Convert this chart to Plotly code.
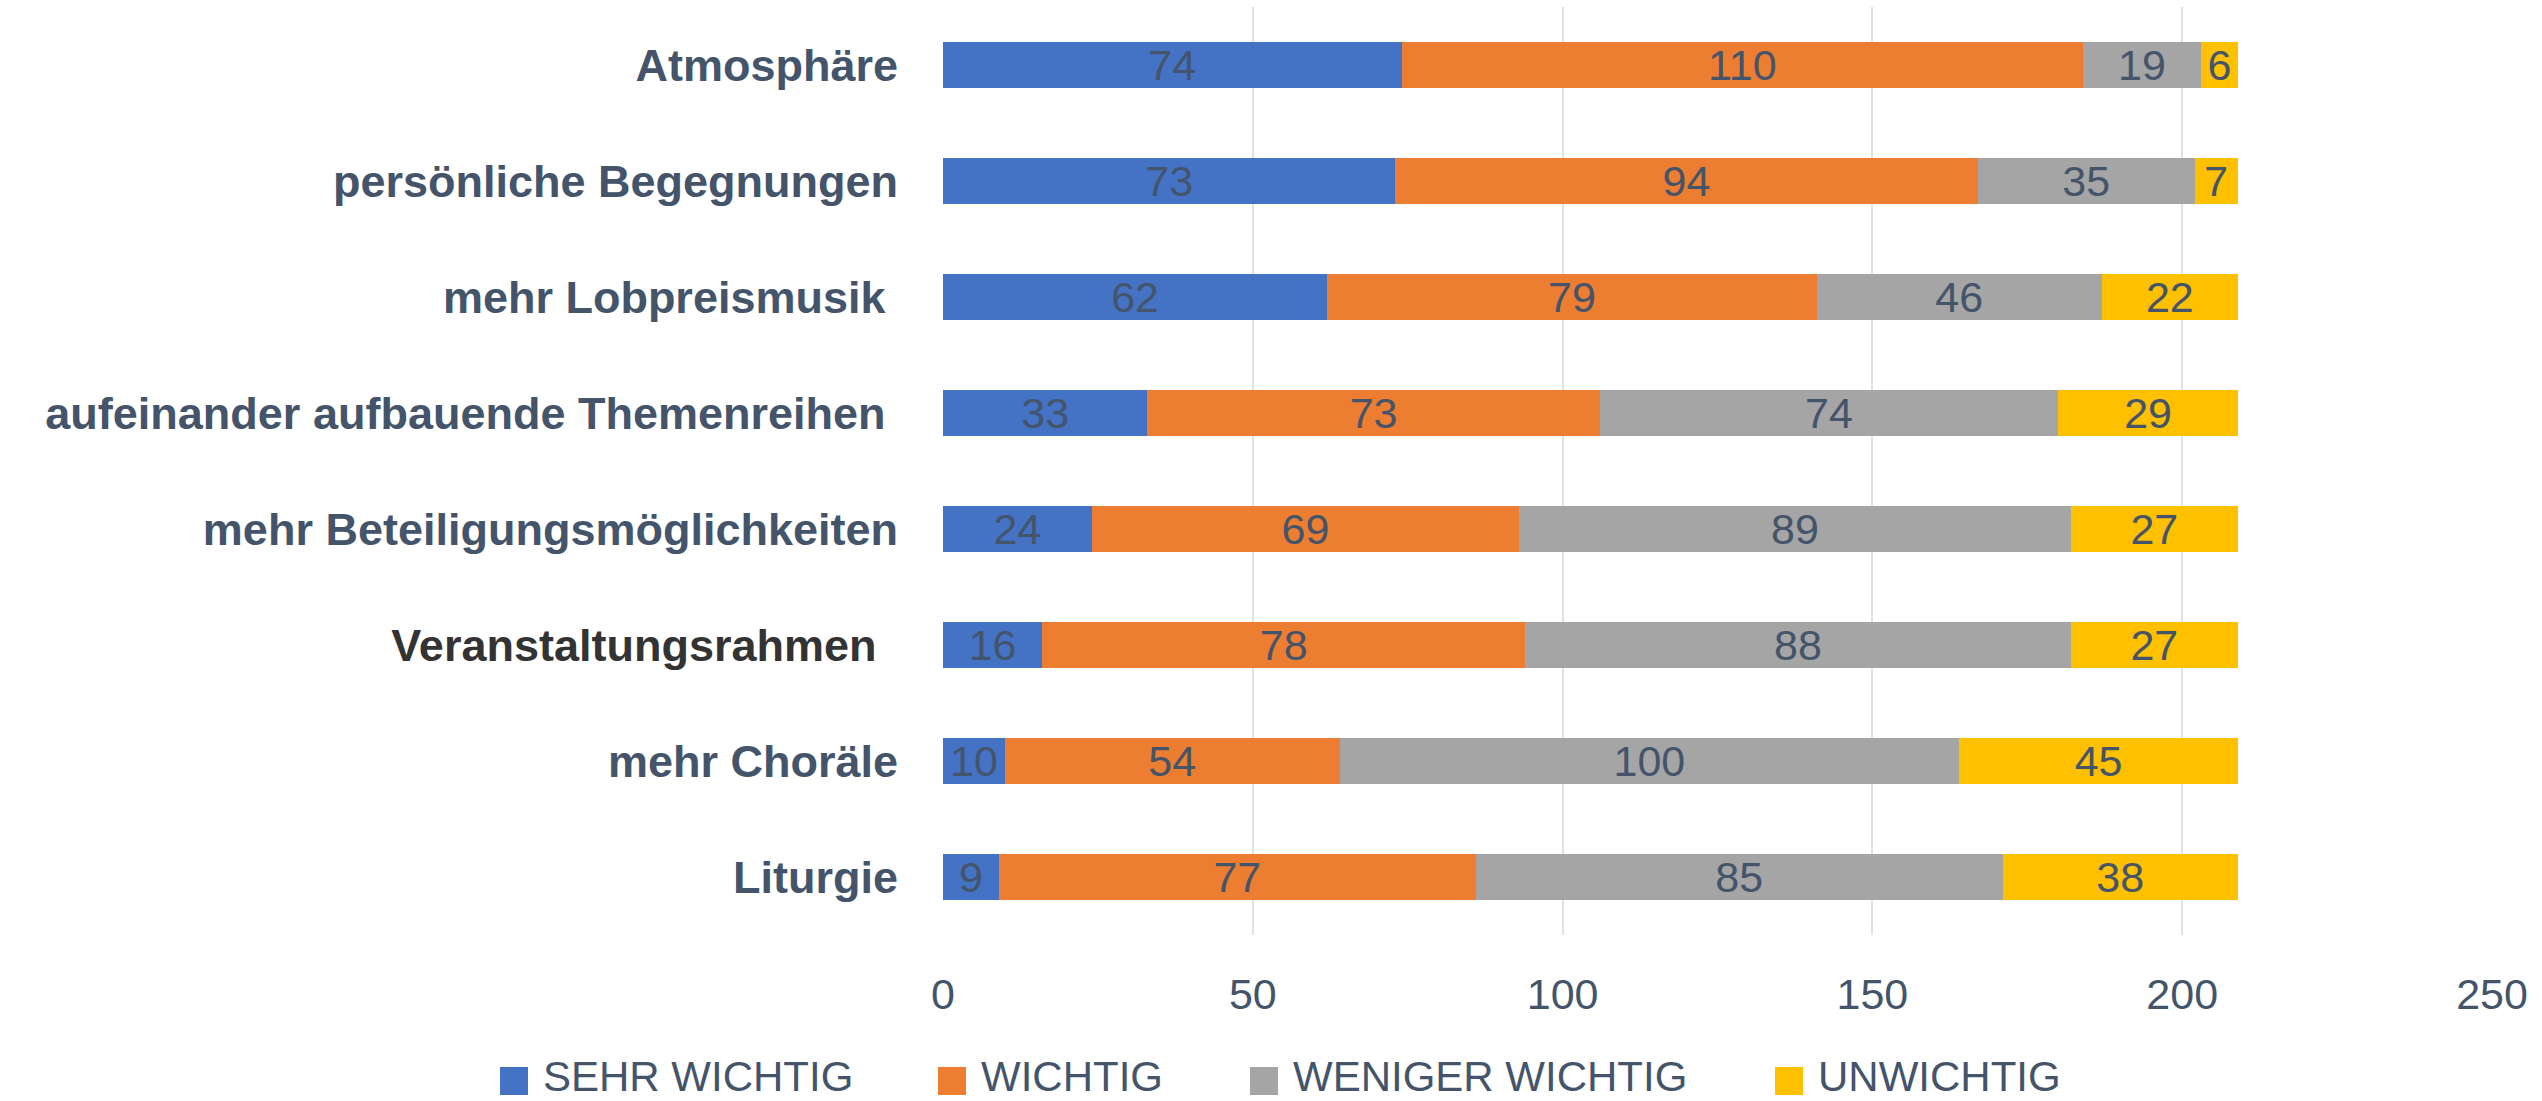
import plotly.graph_objects as go

# Kategorien von oben nach unten
categories = [
    "Atmosphäre",
    "persönliche Begegnungen",
    "mehr Lobpreismusik",
    "aufeinander aufbauende Themenreihen",
    "mehr Beteiligungsmöglichkeiten",
    "Veranstaltungsrahmen",
    "mehr Choräle",
    "Liturgie",
]
# Achsenbeschriftungen (mit den Leerzeichen am Ende wie im Original)
tick_labels = [
    "Atmosphäre",
    "persönliche Begegnungen",
    "mehr Lobpreismusik\u00a0",
    "aufeinander aufbauende Themenreihen\u00a0",
    "mehr Beteiligungsmöglichkeiten",
    "<span style='color:#333333'>Veranstaltungsrahmen\u00a0\u2009</span>",
    "mehr Choräle",
    "Liturgie",
]

series_names = ["SEHR WICHTIG", "WICHTIG", "WENIGER WICHTIG", "UNWICHTIG"]
sehr_wichtig = [74, 73, 62, 33, 24, 16, 10, 9]
wichtig = [110, 94, 79, 73, 69, 78, 54, 77]
weniger_wichtig = [19, 35, 46, 74, 89, 88, 100, 85]
unwichtig = [6, 7, 22, 29, 27, 27, 45, 38]

x_ticks = [0, 50, 100, 150, 200, 250]

colors = ["#4472c4", "#ed7d31", "#a5a5a5", "#ffc000"]
TXT = "#44546a"
FONT = "Liberation Sans, Arial, sans-serif"

W, H = 2542, 1101
L, R, T, B = 943, 50, 7, 166

fig = go.Figure()
for name, vals, col in zip(series_names,
                           [sehr_wichtig, wichtig, weniger_wichtig, unwichtig],
                           colors):
    fig.add_trace(go.Bar(
        y=categories, x=vals, name=name, orientation="h",
        marker=dict(color=col, line=dict(width=0)),
        text=[str(v) for v in vals], textposition="inside",
        insidetextanchor="middle", textangle=0, constraintext="none",
        textfont=dict(family=FONT, size=43, color=TXT),
        showlegend=False,
    ))

fig.update_layout(
    barmode="stack", bargap=0.6,
    width=W, height=H,
    margin=dict(l=L, r=R, t=T, b=B),
    plot_bgcolor="white", paper_bgcolor="white",
    font=dict(family=FONT, color=TXT),
)
fig.update_xaxes(
    range=[0, 250], tickvals=x_ticks, showgrid=True,
    gridcolor="#dde1e8", gridwidth=2, zeroline=False, showline=False,
    tickfont=dict(family=FONT, size=43, color=TXT),
    ticklabelstandoff=30,
)
fig.update_yaxes(
    autorange="reversed", tickvals=categories, ticktext=tick_labels,
    showgrid=False, showline=False, zeroline=False,
    tickfont=dict(family=FONT, size=45, color=TXT, weight="bold"),
    ticklabelstandoff=44,
)

# Legende von Hand (große Quadrate wie im Original)
pw, ph = W - L - R, H - T - B


def px_x(x):
    return (x - L) / pw


def px_y(y):
    return (H - B - y) / ph


legend_x = [500, 938, 1250, 1775]
for name, col, lx in zip(series_names, colors, legend_x):
    fig.add_shape(type="rect", xref="paper", yref="paper",
                  x0=px_x(lx), x1=px_x(lx + 28), y0=px_y(1095), y1=px_y(1067),
                  fillcolor=col, line=dict(width=0))
    fig.add_annotation(xref="paper", yref="paper", x=px_x(lx + 41), y=px_y(1076),
                       xanchor="left", yanchor="middle", showarrow=False,
                       text=name, font=dict(family=FONT, size=42, color=TXT))

fig.write_html("out.html", config={"displayModeBar": False},
               post_script="document.body.style.margin='0';")
